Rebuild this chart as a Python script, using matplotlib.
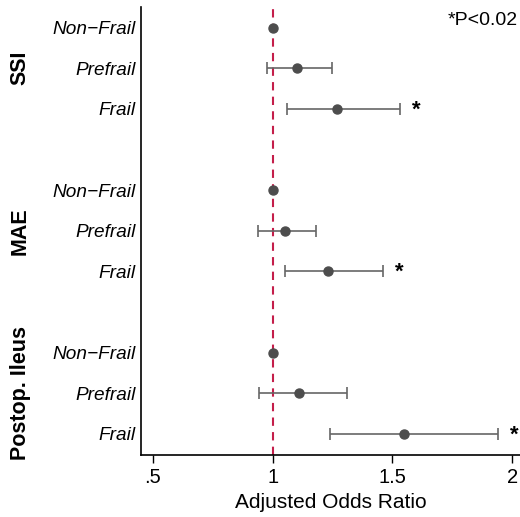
import matplotlib
matplotlib.use('Agg')
import matplotlib.pyplot as plt
import numpy as np

plt.rcParams['font.family'] = ['Liberation Sans', 'DejaVu Sans']

groups = ['SSI', 'MAE', 'Postop. Ileus']
levels = ['Non\u2212Frail', 'Prefrail', 'Frail']
# odds ratios and 95% CI, per group: Non-Frail, Prefrail, Frail
odds = [[1.0, 1.10, 1.27],
        [1.0, 1.05, 1.23],
        [1.0, 1.11, 1.55]]
lower = [[1.0, 0.975, 1.06],
         [1.0, 0.94, 1.05],
         [1.0, 0.945, 1.24]]
upper = [[1.0, 1.25, 1.53],
         [1.0, 1.18, 1.46],
         [1.0, 1.31, 1.94]]
signif = [[False, False, True],
          [False, False, True],
          [False, False, True]]

fig = plt.figure(figsize=(5.2, 5.17), dpi=100)
ax = fig.add_axes([0.271, 0.12, 0.729, 0.866])

ax.axvline(1, color='#C41E4A', ls=(0, (4, 3)), lw=1.5, zorder=1)

yticks = []
ylabels = []
for g in range(len(groups)):
    base = 10 - 4 * g
    for i in range(len(levels)):
        y = base - i
        yticks.append(y)
        ylabels.append(levels[i])
        o, lo, hi = odds[g][i], lower[g][i], upper[g][i]
        if hi > lo:
            ax.errorbar(o, y, xerr=[[o - lo], [hi - o]], fmt='none',
                        ecolor='#666666', elinewidth=1.2, capsize=4, capthick=1.2, zorder=2)
        ax.plot(o, y, 'o', color='#4d4d4d', ms=6.5, zorder=3)
        if signif[g][i]:
            ax.annotate('*', (hi, y), xytext=(12, -1), textcoords='offset points',
                        ha='center', va='center', fontsize=16, fontweight='bold')
    ax.text(-0.318, (base - 1.0 - (-0.52)) / 11.02, groups[g], transform=ax.transAxes,
            rotation=90, ha='center', va='center', fontsize=15.5, fontweight='bold')

ax.set_yticks(yticks)
ax.set_yticklabels(ylabels, fontsize=13.7, style='italic')
ax.tick_params(axis='y', length=0, pad=4)
ax.set_xlim(0.45, 2.033)
ax.set_ylim(-0.52, 10.5)
ax.set_xticks([0.5, 1, 1.5, 2])
ax.set_xticklabels(['.5', '1', '1.5', '2'], fontsize=14.5)
ax.tick_params(axis='x', length=6, width=1)
ax.set_xlabel('Adjusted Odds Ratio', fontsize=15, labelpad=4)
for s in ['top', 'right']:
    ax.spines[s].set_visible(False)
ax.spines['left'].set_linewidth(1.2)
ax.spines['bottom'].set_linewidth(1.2)

fig.text(0.995, 0.96, '*P<0.02', ha='right', va='center', fontsize=14)

fig.savefig('out.png', dpi=100)
